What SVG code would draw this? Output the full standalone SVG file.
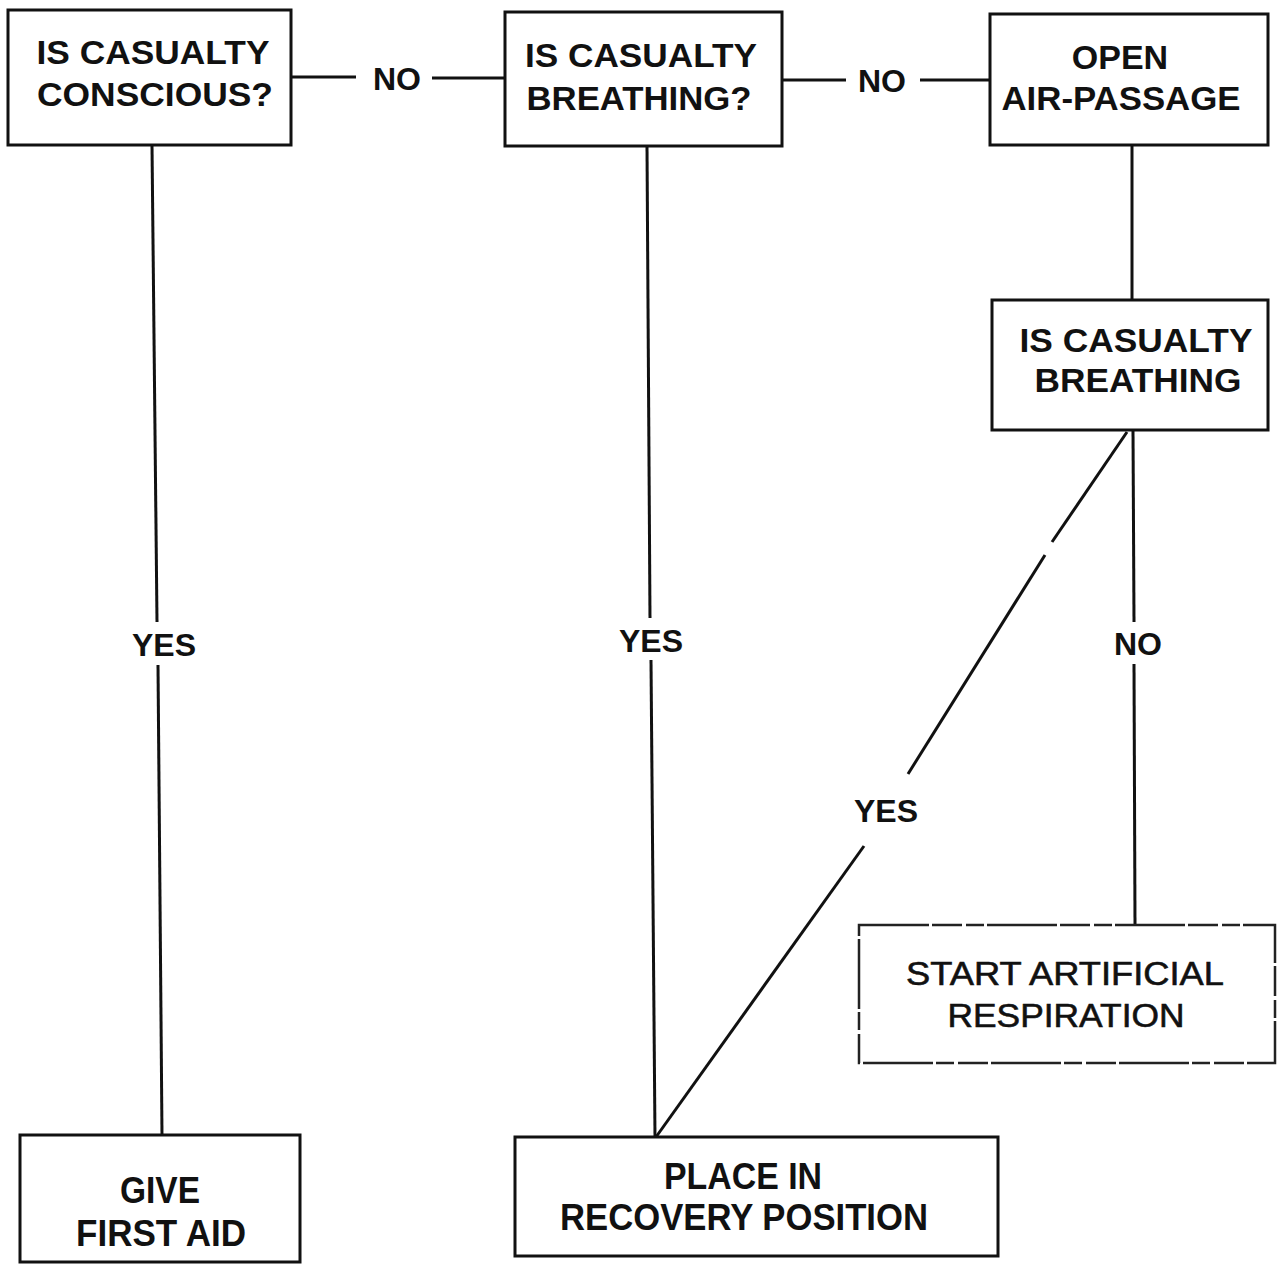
<svg xmlns="http://www.w3.org/2000/svg" width="1278" height="1264" viewBox="0 0 1278 1264">
<style>
.box{fill:none;stroke:#111;stroke-width:3}
.boxd{fill:none;stroke:#222;stroke-width:2.5;stroke-dasharray:70 3 30 4 18 3}
.t{font-family:"Liberation Sans",Arial,sans-serif;font-weight:bold;font-size:34px;fill:#111;text-anchor:middle}
.tr{font-family:"Liberation Sans",Arial,sans-serif;font-weight:normal;font-size:33px;fill:#111;stroke:#111;stroke-width:0.6;text-anchor:middle}
.tn{font-family:"Liberation Sans Narrow","Liberation Sans",Arial,sans-serif;font-weight:bold;font-size:36px;fill:#111;text-anchor:middle}
.lab{font-family:"Liberation Sans",Arial,sans-serif;font-weight:bold;font-size:32px;fill:#111;text-anchor:middle}
.c{stroke:#111;stroke-width:3;fill:none}
</style>
<rect width="1278" height="1264" fill="#fff"/>
<g id="connectors">
<line class="c" x1="291" y1="77" x2="356" y2="77"/>
<line class="c" x1="432" y1="78" x2="505" y2="78"/>
<line class="c" x1="782" y1="80" x2="846" y2="80"/>
<line class="c" x1="920" y1="80" x2="990" y2="80"/>
<line class="c" x1="152" y1="145" x2="157" y2="622"/>
<line class="c" x1="158" y1="665" x2="162" y2="1135"/>
<line class="c" x1="647" y1="146" x2="650" y2="618"/>
<line class="c" x1="651" y1="660" x2="655" y2="1137"/>
<line class="c" x1="1132" y1="145" x2="1132" y2="300"/>
<line class="c" x1="1133" y1="430" x2="1134" y2="622"/>
<line class="c" x1="1134" y1="664" x2="1135" y2="925"/>
<line class="c" x1="1127" y1="432" x2="1052" y2="542"/>
<line class="c" x1="1045" y1="555" x2="908" y2="774"/>
<line class="c" x1="864" y1="846" x2="656" y2="1137"/>
<text class="lab" x="397" y="90">NO</text>
<text class="lab" x="882" y="92">NO</text>
<text class="lab" x="164" y="656">YES</text>
<text class="lab" x="651" y="652">YES</text>
<text class="lab" x="1138" y="655">NO</text>
<text class="lab" x="886" y="822">YES</text>
</g>
<g id="n1">
<rect class="box" x="8" y="10" width="283" height="135"/>
<text class="t" x="153" y="64" textLength="233" lengthAdjust="spacingAndGlyphs">IS CASUALTY</text>
<text class="t" x="155" y="106" textLength="236" lengthAdjust="spacingAndGlyphs">CONSCIOUS?</text>
</g>
<g id="n2">
<rect class="box" x="505" y="12" width="277" height="134"/>
<text class="t" x="641" y="67" textLength="232" lengthAdjust="spacingAndGlyphs">IS CASUALTY</text>
<text class="t" x="639" y="110" textLength="225" lengthAdjust="spacingAndGlyphs">BREATHING?</text>
</g>
<g id="n3">
<rect class="box" x="990" y="14" width="278" height="131"/>
<text class="t" x="1120" y="69">OPEN</text>
<text class="t" x="1121" y="110" textLength="239" lengthAdjust="spacingAndGlyphs">AIR-PASSAGE</text>
</g>
<g id="n4">
<rect class="box" x="992" y="300" width="276" height="130"/>
<text class="t" x="1136" y="352" textLength="233" lengthAdjust="spacingAndGlyphs">IS CASUALTY</text>
<text class="t" x="1138" y="392" textLength="207" lengthAdjust="spacingAndGlyphs">BREATHING</text>
</g>
<g id="n5">
<rect class="boxd" x="859" y="925" width="416" height="138"/>
<text class="tr" x="1065" y="985" textLength="318" lengthAdjust="spacingAndGlyphs">START ARTIFICIAL</text>
<text class="tr" x="1066" y="1027" textLength="237" lengthAdjust="spacingAndGlyphs">RESPIRATION</text>
</g>
<g id="n6">
<rect class="box" x="20" y="1135" width="280" height="127"/>
<text class="tn" x="160" y="1203" textLength="80" lengthAdjust="spacingAndGlyphs">GIVE</text>
<text class="tn" x="161" y="1246" textLength="170" lengthAdjust="spacingAndGlyphs">FIRST AID</text>
</g>
<g id="n7">
<rect class="box" x="515" y="1137" width="483" height="119"/>
<text class="tn" x="743" y="1189" textLength="158" lengthAdjust="spacingAndGlyphs">PLACE IN</text>
<text class="tn" x="744" y="1230" textLength="368" lengthAdjust="spacingAndGlyphs">RECOVERY POSITION</text>
</g>
</svg>
